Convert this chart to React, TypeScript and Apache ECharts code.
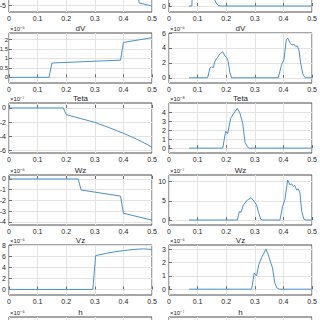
import React, { useEffect, useRef } from 'react';
import * as echarts from 'echarts';

type Pt = [number, number];

// x axis (time) ticks
const xTicks = [0, 0.1, 0.2, 0.3, 0.4, 0.5];

// Row titles and exponent labels
const rowTitles = ['', 'dV', 'Teta', 'Wz', 'Vz', 'h'];
const leftExponents = ['', '×10⁻⁵', '×10⁻⁷', '×10⁻⁶', '×10⁻⁶', '×10⁻⁵'];
const rightExponents = ['', '×10⁻⁶', '×10⁻⁸', '×10⁻⁷', '×10⁻⁶', '×10⁻⁷'];

// Series values (in units of the exponent shown above each panel)
const topLeft: Pt[] = [[0, 0], [0.45, 0], [0.455, -4.4], [0.5, -5.3]];
const topRight: Pt[] = [
  [0.07, 0], [0.08, 0], [0.085, 4], [0.155, 4], [0.16, 0.5], [0.165, 0.25], [0.172, 0.05], [0.18, 0], [0.5, 0],
];
const dVLeft: Pt[] = [
  [0, 0], [0.14, 0], [0.15, 0.76], [0.39, 0.91], [0.4, 1.85], [0.5, 2.1],
];
const dVRight: Pt[] = [
  [0.07, 0], [0.135, 0], [0.143, 1.3], [0.149, 1.47], [0.155, 1.35], [0.161, 2.25], [0.169, 2.7],
  [0.178, 3.2], [0.188, 3.5], [0.196, 2.9], [0.202, 2.7], [0.207, 2.2], [0.213, 0.7], [0.219, 0],
  [0.382, 0], [0.394, 1.8], [0.402, 2.4], [0.41, 5.1], [0.415, 5.3], [0.424, 4.6], [0.43, 4.4],
  [0.437, 4.5], [0.443, 4.2], [0.449, 4.25], [0.455, 3.6], [0.46, 2.0], [0.468, 0.5], [0.476, 0], [0.5, 0],
];
const tetaLeft: Pt[] = [
  [0, 0], [0.19, 0], [0.195, -0.5], [0.2, -0.95], [0.25, -1.5], [0.3, -2.05], [0.35, -2.8],
  [0.4, -3.6], [0.45, -4.5], [0.5, -5.55],
];
const tetaRight: Pt[] = [
  [0.07, 0], [0.188, 0], [0.198, 1.92], [0.205, 1.63], [0.216, 3.4], [0.227, 3.96], [0.239, 4.5],
  [0.248, 3.96], [0.258, 2.74], [0.266, 0.63], [0.275, 0.1], [0.28, 0], [0.5, 0],
];
const wzLeft: Pt[] = [
  [0, 0], [0.242, 0], [0.252, -1.03], [0.39, -1.6], [0.4, -3.2], [0.5, -3.85],
];
const wzRight: Pt[] = [
  [0.07, 0], [0.239, 0], [0.246, 2.2], [0.252, 2.0], [0.26, 3.9], [0.274, 5.2], [0.287, 5.8],
  [0.298, 4.8], [0.306, 3.9], [0.314, 1.7], [0.321, 0.17], [0.326, 0], [0.388, 0], [0.397, 3.5],
  [0.405, 5.2], [0.415, 10.4], [0.423, 9.1], [0.429, 9.4], [0.435, 8.7], [0.44, 9.0], [0.446, 7.8],
  [0.452, 8.1], [0.458, 7.0], [0.464, 2.2], [0.472, 0.17], [0.48, 0], [0.5, 0],
];
const vzLeft: Pt[] = [
  [0, 0], [0.293, 0], [0.303, 6.1], [0.35, 6.6], [0.4, 7.0], [0.45, 7.25], [0.47, 7.3], [0.5, 7.2],
];
const vzRight: Pt[] = [
  [0.07, 0], [0.289, 0], [0.298, 1.23], [0.306, 1.0], [0.314, 1.85], [0.324, 2.4], [0.339, 3.03],
  [0.347, 2.6], [0.355, 2.05], [0.362, 1.6], [0.37, 0.45], [0.378, 0.08], [0.385, 0], [0.5, 0],
];

// y tick values per panel (only the ticks that fall inside the visible page)
const yTicksLeft: number[][] = [[-5], [0, 0.5, 1, 1.5, 2], [-6, -4, -2, 0], [-4, -3, -2, -1, 0], [0, 2, 4, 6, 8], []];
const yTicksRight: number[][] = [[0], [0, 2, 4, 6], [0, 1, 2, 3, 4], [0, 5, 10], [0, 1, 2, 3], []];
const yRangeLeft: Pt[] = [[-7, 7.3], [-0.3, 2.35], [-6.4, 0.7], [-4.3, 0.37], [-1.0, 8.0], [-0.2, 1]];
const yRangeRight: Pt[] = [[-0.5, 3.67], [-0.7, 6], [-0.55, 5.1], [-1.3, 11.7], [-0.44, 3.34], [-0.2, 1]];

const leftData: (Pt[] | null)[] = [topLeft, dVLeft, tetaLeft, wzLeft, vzLeft, null];
const rightData: (Pt[] | null)[] = [topRight, dVRight, tetaRight, wzRight, vzRight, null];

const ROW_TOPS = [-38, 33, 103, 175, 245, 317];
const BOX_H = 50;
const COL_LEFTS = [9, 169];
const BOX_W = 143;

const LINE_COLOR = '#4a92c9';
const TEXT_COLOR = '#262626';
const GRID_COLOR = '#e3e3e3';
const BOX_COLOR = '#4d4d4d';

export default function App() {
  const ref = useRef<HTMLDivElement>(null);

  useEffect(() => {
    if (!ref.current) return;
    const chart = echarts.init(ref.current, undefined, { renderer: 'svg' });

    const grids: any[] = [];
    const xAxes: any[] = [];
    const yAxes: any[] = [];
    const series: any[] = [];
    const graphics: any[] = [];

    let idx = 0;
    for (let r = 0; r < ROW_TOPS.length; r++) {
      for (let c = 0; c < 2; c++) {
        const ticks = c === 0 ? yTicksLeft[r] : yTicksRight[r];
        const range = c === 0 ? yRangeLeft[r] : yRangeRight[r];
        const data = c === 0 ? leftData[r] : rightData[r];
        const hasTicks = ticks.length > 0;
        const hasDecimals = ticks.some((t) => !Number.isInteger(t));
        grids.push({
          left: COL_LEFTS[c],
          top: ROW_TOPS[r],
          width: BOX_W,
          height: BOX_H,
          show: true,
          borderColor: BOX_COLOR,
          borderWidth: 1,
          backgroundColor: '#fff',
          containLabel: false,
          outerBoundsMode: 'none',
        });
        xAxes.push({
          gridIndex: idx,
          type: 'value',
          min: xTicks[0],
          max: xTicks[xTicks.length - 1],
          interval: 0.1,
          axisLine: { show: false },
          axisTick: { show: true, inside: true, length: 3, lineStyle: { color: BOX_COLOR, width: 0.8 } },
          axisLabel: { show: r < 5, fontSize: 7, color: TEXT_COLOR, margin: 3, fontFamily: 'Liberation Sans, Arial, sans-serif' },
          splitLine: { show: true, lineStyle: { color: GRID_COLOR, width: 1 } },
        });
        yAxes.push({
          gridIndex: idx,
          type: 'value',
          min: range[0],
          max: range[1],
          axisLine: { show: false },
          axisTick: hasTicks
            ? { show: true, inside: true, length: 3, customValues: ticks, lineStyle: { color: BOX_COLOR, width: 0.8 } }
            : { show: false },
          axisLabel: hasTicks
            ? {
                show: true,
                customValues: ticks,
                fontSize: hasDecimals && c === 0 ? 6 : 7,
                color: TEXT_COLOR,
                margin: hasDecimals && c === 0 ? 1 : 3,
                fontFamily: 'Liberation Sans, Arial, sans-serif',
              }
            : { show: false },
          splitLine: { show: hasTicks, lineStyle: { color: GRID_COLOR, width: 1 } },
        });
        if (data) {
          series.push({
            type: 'line',
            xAxisIndex: idx,
            yAxisIndex: idx,
            data,
            showSymbol: false,
            clip: true,
            lineStyle: { color: LINE_COLOR, width: 1 },
            itemStyle: { color: LINE_COLOR },
          });
        }
        const title = rowTitles[r];
        if (title) {
          graphics.push({
            type: 'text',
            x: COL_LEFTS[c] + BOX_W / 2,
            y: ROW_TOPS[r] - 1,
            style: {
              text: title,
              fill: TEXT_COLOR,
              font: '8px "Liberation Sans", Arial, sans-serif',
              textAlign: 'center',
              textVerticalAlign: 'bottom',
            },
          });
        }
        const exp = c === 0 ? leftExponents[r] : rightExponents[r];
        if (exp) {
          graphics.push({
            type: 'text',
            x: COL_LEFTS[c] + 1,
            y: ROW_TOPS[r] - 1,
            style: {
              text: exp,
              fill: TEXT_COLOR,
              font: '6px "Liberation Sans", Arial, sans-serif',
              textAlign: 'left',
              textVerticalAlign: 'bottom',
            },
          });
        }
        idx++;
      }
    }

    chart.setOption({
      animation: false,
      backgroundColor: '#ffffff',
      grid: grids,
      xAxis: xAxes,
      yAxis: yAxes,
      series,
      graphic: graphics,
    });

    return () => chart.dispose();
  }, []);

  return (
    <div
      ref={ref}
      style={{ position: 'fixed', left: 0, top: 0, width: 320, height: 320, background: '#fff' }}
    />
  );
}
